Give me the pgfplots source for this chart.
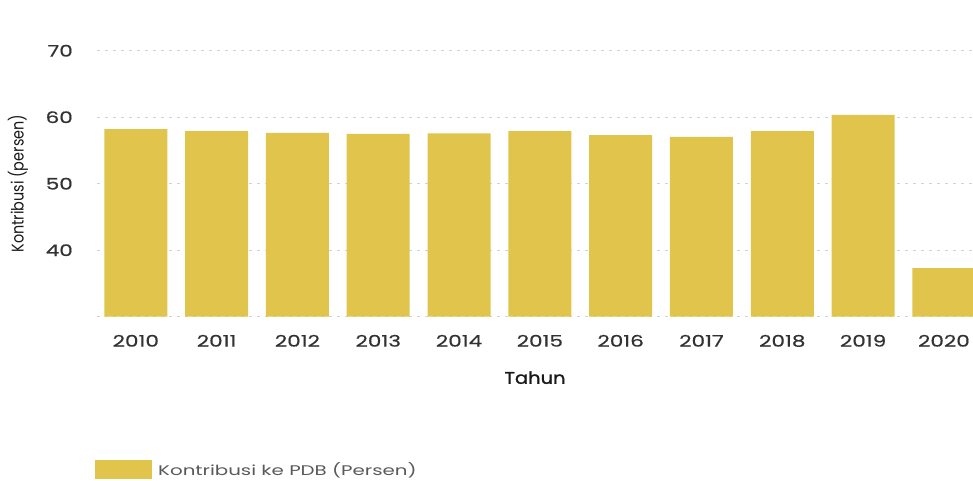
\documentclass[border=0pt]{standalone}
\usepackage{pgfplots}
\pgfplotsset{compat=1.18}
\usepackage{fontspec}
\setmainfont{Poppins}
\newfontfamily\tickfont[FakeStretch=1.35, FakeBold=0.6]{Poppins}
\newfontfamily\labfont[FakeStretch=1.15, FakeBold=1.2]{Poppins}
\newfontfamily\legfont[FakeStretch=1.42]{Poppins}
\definecolor{barcol}{RGB}{224,196,76}
\definecolor{gridcol}{RGB}{205,210,220}
\definecolor{txt}{RGB}{50,50,50}
\begin{document}
\begin{tikzpicture}
\path[use as bounding box] (-97bp,-164.3bp) rectangle (876bp,316.7bp);
\begin{axis}[
  at={(0,0)}, anchor=south west,
  scale only axis, width=876bp, height=266bp,
  xmin=-0.48, xmax=10.36, ymin=30, ymax=70,
  axis line style={draw=none},
  major tick length=0pt,
  xtick={0,...,10},
  xticklabels={2010,2011,2012,2013,2014,2015,2016,2017,2018,2019,2020},
  ytick={40,50,60,70},
  extra y ticks={30}, extra y tick labels={},
  ymajorgrids,
  grid style={gridcol, line width=0.8bp, dash pattern=on 3bp off 5bp},
  extra y tick style={grid style={gridcol, line width=0.8bp, dash pattern=on 3bp off 5bp}},
  /pgf/number format/assume math mode=true,
  xticklabel style={font=\fontsize{16}{18}\selectfont\tickfont, text=txt, inner sep=0pt, anchor=north, yshift=-18bp},
  yticklabel style={font=\fontsize{16}{18}\selectfont\tickfont, text=txt, inner sep=0pt, anchor=east, xshift=-24bp},
  xlabel={Tahun},
  xlabel style={at={(axis description cs:0.5,-0.229)}, anchor=center, font=\fontsize{17}{19}\selectfont\labfont, text=black!90},
  ylabel={\scalebox{0.85}[1]{Kontribusi (persen)}},
  ylabel style={at={(axis description cs:-0.0902,0.5)}, anchor=center, rotate=0, font=\fontsize{17}{19}\selectfont, text=black!90},
  clip=true,
  legend style={at={(axis description cs:-0.002,-0.5745)}, anchor=west, draw=none, fill=none, inner sep=0pt, outer sep=0pt,
    font=\fontsize{14}{16}\selectfont\legfont, text=black!65},
  legend cell align=left,
  legend image code/.code={\fill[barcol] (0bp,-9.5bp) rectangle (57bp,9.5bp); \path (61bp,0bp);},
]
\addplot[ybar, bar width=0.78, fill=barcol, draw=none, bar shift=0pt] coordinates {
(0,58.2) (1,57.9) (2,57.65) (3,57.5) (4,57.55) (5,57.9) (6,57.3) (7,57.05) (8,57.9) (9,60.35) (10,37.3)
};
\addlegendentry{Kontribusi ke PDB (Persen)}
\end{axis}
\end{tikzpicture}
\end{document}
